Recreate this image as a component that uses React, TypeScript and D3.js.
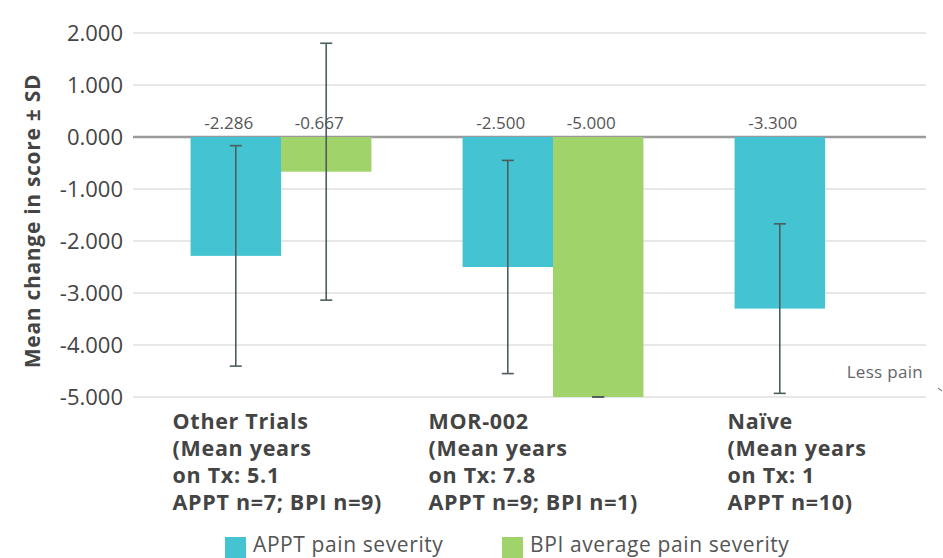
import React from "react";
import { scaleLinear, scaleBand, range } from "d3";

// DATA
const categories = ["Other Trials", "MOR-002", "Naïve"];
const categoryLines = [
  ["Other Trials", "(Mean years", "on Tx: 5.1", "APPT n=7; BPI n=9)"],
  ["MOR-002", "(Mean years", "on Tx: 7.8", "APPT n=9; BPI n=1)"],
  ["Naïve", "(Mean years", "on Tx: 1", "APPT n=10)"],
];
const seriesNames = ["APPT pain severity", "BPI average pain severity"];
const apptMean = [-2.286, -2.5, -3.3];
const apptSD = [2.12, 2.05, 1.63];
const bpiMean = [-0.667, -5.0, null];
const bpiSD = [2.47, 0, null];
const yTicks = [2, 1, 0, -1, -2, -3, -4, -5];

const colors = ["#44C3D2", "#A0D36A"];
const font = "'Open Sans', 'Noto Sans', sans-serif";

const width = 943;
const height = 558;
// label block shift from band start (reference layout)
const labelShift = [-18, -34, -7];

const App = () => {
  const yScale = scaleLinear().domain([-5, 2]).range([397, 33]);
  const xScale = scaleBand()
    .domain(categories)
    .range([145, 961])
    .paddingInner(0.335)
    .paddingOuter(0.1675);
  const xInner = scaleBand().domain(["0", "1"]).range([0, xScale.bandwidth()]);

  const series = [
    { mean: apptMean, sd: apptSD },
    { mean: bpiMean, sd: bpiSD },
  ];

  const fmt = (v: number) => v.toFixed(3);

  return (
    <svg width={width} height={height} style={{ position: "absolute", left: 0, top: 0 }} fontFamily={font}>
      <rect width={width} height={height} fill="#fff" />
      {/* GRID */}
      {yTicks.map(t => (
        <g key={t}>
          <line
            x1={133}
            x2={926}
            y1={yScale(t)}
            y2={yScale(t)}
            stroke={t === 0 ? "#9a9a9a" : "#d0d0d0"}
            strokeWidth={t === 0 ? 2.5 : 1.2}
          />
          <text x={123} y={yScale(t)} dy="0.36em" textAnchor="end" fontSize={22} fill="#444">
            {fmt(t)}
          </text>
        </g>
      ))}
      <text
        transform={`translate(40,221) rotate(-90)`}
        textAnchor="middle"
        fontSize={21}
        fontWeight="bold"
        letterSpacing={0.7}
        fill="#444"
      >
        Mean change in score ± SD
      </text>

      {/* BARS */}
      {series.map((s, si) =>
        categories.map((c, ci) => {
          const v = s.mean[ci];
          if (v === null) return null;
          const x = (xScale(c) as number) + (xInner(String(si)) as number);
          const w = xInner.bandwidth();
          const cx = x + w / 2;
          return (
            <g key={`${si}-${ci}`}>
              <rect
                x={x}
                y={yScale(Math.max(0, v))}
                width={w}
                height={Math.abs(yScale(v) - yScale(0))}
                fill={colors[si]}
              />
              <text x={cx - 7} y={129} textAnchor="middle" fontSize={17} fill="#555">
                {fmt(v)}
              </text>
            </g>
          );
        })
      )}

      {/* ERROR BARS */}
      {series.map((s, si) =>
        categories.map((c, ci) => {
          const v = s.mean[ci];
          if (v === null) return null;
          const cx = (xScale(c) as number) + (xInner(String(si)) as number) + xInner.bandwidth() / 2;
          const sd = s.sd[ci] as number;
          const top = yScale(v + sd);
          const bot = yScale(v - sd);
          return (
            <g key={`e${si}-${ci}`} stroke="#4d5c5c" strokeWidth={1.6}>
              <line x1={cx} x2={cx} y1={top} y2={bot} />
              <line x1={cx - 6} x2={cx + 6} y1={top} y2={top} />
              <line x1={cx - 6} x2={cx + 6} y1={bot} y2={bot} />
            </g>
          );
        })
      )}

      {/* CATEGORY LABELS */}
      {categories.map((c, ci) =>
        categoryLines[ci].map((l, li) => (
          <text
            key={`${c}-${li}`}
            x={(xScale(c) as number) + labelShift[ci]}
            y={429 + li * 27}
            fontSize={21.5}
            fontWeight="bold"
            letterSpacing={0.7}
            fill="#444"
          >
            {l}
          </text>
        ))
      )}

      {/* LESS PAIN */}
      <text x={923} y={378} textAnchor="end" fontSize={17} letterSpacing={0.3} fill="#666">
        Less pain
      </text>
      <line x1={938} x2={942} y1={388} y2={391} stroke="#888" strokeWidth={1.2} />

      {/* LEGEND */}
      {range(2).map(i => {
        const lx = [225, 502][i];
        return (
          <g key={i}>
            <rect x={lx} y={537} width={21} height={21} fill={colors[i]} />
            <text x={lx + 28} y={552} fontSize={21} letterSpacing={0.6} fill="#555">
              {seriesNames[i]}
            </text>
          </g>
        );
      })}
    </svg>
  );
};

export default App;
